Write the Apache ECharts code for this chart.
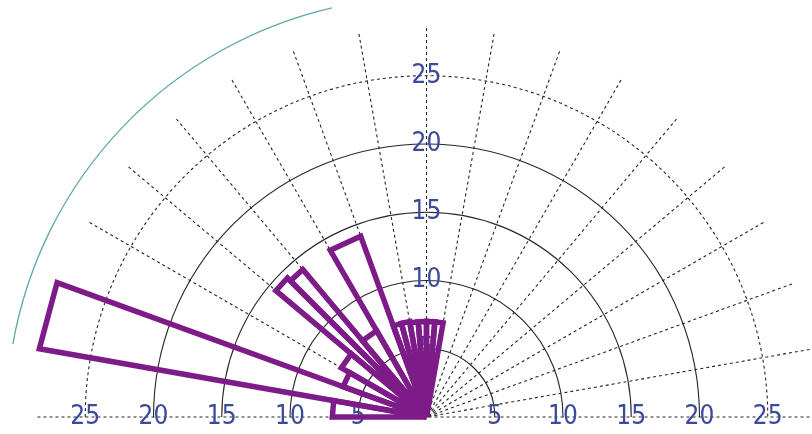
<!DOCTYPE html>
<html>
<head>
<meta charset="utf-8">
<script src="https://cdn.jsdelivr.net/npm/echarts@6/dist/echarts.min.js"></script>
<style>
  html, body { margin: 0; padding: 0; background: #ffffff; }
  #chart { width: 812px; height: 434px; }
</style>
</head>
<body>
<div id="chart"></div>
<script>
// Orientation classes (degrees) and the count in each sector of the half rose
const binStart = [80, 85, 90, 95, 100, 105, 110, 120, 130, 135, 140, 150, 160, 170];
const binEnd   = [85, 90, 95, 100, 105, 110, 120, 130, 135, 140, 150, 160, 170, 180];
const binCount = [7.0, 7.0, 7.0, 7.0, 7.1, 7.1, 14.1, 7.3, 14.1, 14.4, 7.2, 6.5, 28.8, 6.9];

// Radius scale labels
const radiusLabels = [5, 10, 15, 20, 25];

const CENTER = [426.5, 417];
const RADIUS_MAX = 28.5;
const PX_PER_UNIT = 13.65;
const RADIUS_PX = RADIUS_MAX * PX_PER_UNIT;

const PURPLE = '#7d1b88';
const GRID = '#262626';
const LABEL_BLUE = '#3c4a9c';
const LABEL_FONT = "'Liberation Sans Narrow', 'DejaVu Sans Condensed', 'Liberation Sans', sans-serif";

const sectors = binStart.map((s, i) => [s, binEnd[i], binCount[i]]);

function labelFormatter(v) {
  return radiusLabels.indexOf(v) >= 0 ? String(v) : '';
}

// ring colours per radius tick (0,5,10,15,20,25,max)
const solidRingColors = ['transparent', GRID, GRID, GRID, GRID, 'transparent', 'transparent'];
const dashedRingColors = ['transparent', 'transparent', 'transparent', 'transparent', 'transparent', GRID, 'transparent'];

function labelAxis(splitLine) {
  return {
    type: 'value', min: 0, max: RADIUS_MAX, interval: 5,
    axisLine: { show: false }, axisTick: { show: false },
    axisLabel: {
      show: true, formatter: labelFormatter, margin: 0,
      align: 'center', verticalAlign: 'middle',
      color: LABEL_BLUE, fontFamily: LABEL_FONT, fontSize: 26
    },
    splitLine: splitLine
  };
}

const hiddenAngle = {
  axisLine: { show: false }, axisTick: { show: false }, axisLabel: { show: false },
  splitLine: { show: false }
};

const option = {
  animation: false,
  backgroundColor: '#ffffff',
  polar: [
    { center: CENTER, radius: RADIUS_PX },
    { center: CENTER, radius: RADIUS_PX },
    { center: CENTER, radius: RADIUS_PX }
  ],
  angleAxis: [
    {
      polarIndex: 0, type: 'value', min: 0, max: 180, interval: 10,
      startAngle: 0, endAngle: 180, clockwise: false,
      axisLine: { show: false }, axisTick: { show: false }, axisLabel: { show: false },
      splitLine: { show: true, lineStyle: { color: GRID, width: 1.1, type: [3, 3] } }
    },
    Object.assign({ polarIndex: 1, type: 'value', min: 0, max: 180, startAngle: 90, endAngle: 270, clockwise: false }, hiddenAngle),
    Object.assign({ polarIndex: 2, type: 'value', min: 0, max: 180, startAngle: 180, endAngle: 0, clockwise: true }, hiddenAngle)
  ],
  radiusAxis: [
    Object.assign({ polarIndex: 0 }, labelAxis({ show: true, lineStyle: { color: solidRingColors, width: 1.1 } })),
    Object.assign({ polarIndex: 1 }, labelAxis({ show: false })),
    Object.assign({ polarIndex: 2 }, labelAxis({ show: true, lineStyle: { color: dashedRingColors, width: 1.1, type: [3, 3] } }))
  ],
  graphic: [
    {
      type: 'arc', silent: true,
      shape: { cx: CENTER[0], cy: CENTER[1], r: 420, startAngle: -170 * Math.PI / 180, endAngle: -103 * Math.PI / 180, clockwise: true },
      style: { fill: 'none', stroke: '#2a8c86', lineWidth: 1.3, opacity: 0.75 }
    }
  ],
  series: [
    {
      type: 'custom',
      coordinateSystem: 'polar',
      polarIndex: 0,
      data: sectors,
      encode: { angle: [0, 1], radius: 2 },
      renderItem: function (params, api) {
        const a0 = api.value(0), a1 = api.value(1), r = api.value(2);
        const o = api.coord([0, a0]);
        const p0 = api.coord([r, a0]);
        const p1 = api.coord([r, a1]);
        return {
          type: 'polygon',
          shape: { points: [o, p0, p1] },
          style: { fill: 'none', stroke: PURPLE, lineWidth: 5.5, lineJoin: 'miter' }
        };
      },
      clip: false
    }
  ]
};

const chart = echarts.init(document.getElementById('chart'), null, { renderer: 'canvas' });
chart.setOption(option);
</script>
</body>
</html>
